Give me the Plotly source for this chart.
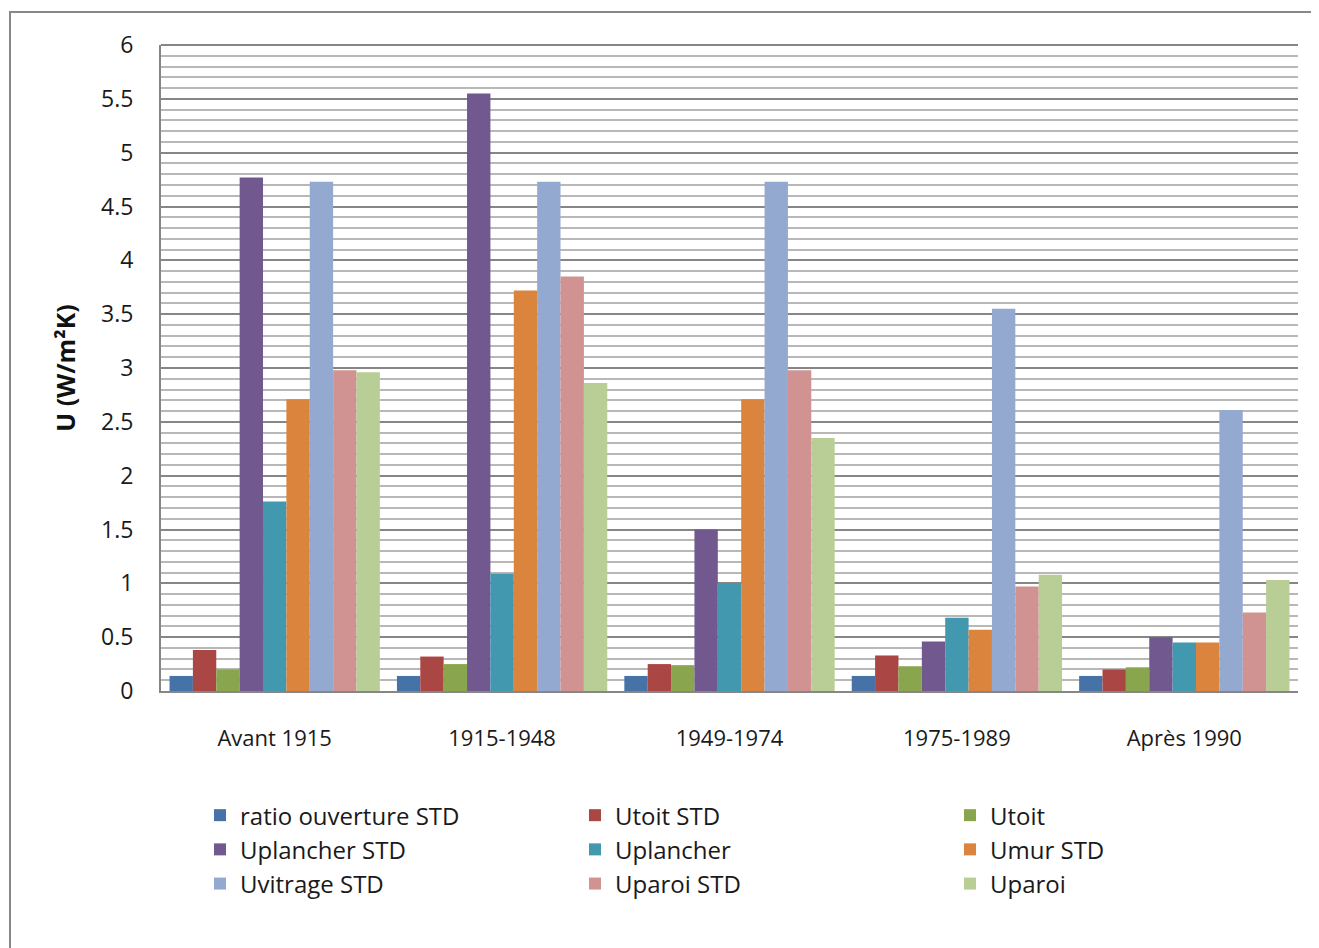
import plotly.graph_objects as go

categories = ["Avant 1915", "1915-1948", "1949-1974", "1975-1989", "Après 1990"]

ratio_ouverture_std = [0.14, 0.14, 0.14, 0.14, 0.14]
utoit_std = [0.38, 0.32, 0.25, 0.33, 0.20]
utoit = [0.20, 0.25, 0.24, 0.23, 0.22]
uplancher_std = [4.77, 5.55, 1.50, 0.46, 0.50]
uplancher = [1.76, 1.09, 1.00, 0.68, 0.45]
umur_std = [2.71, 3.72, 2.71, 0.57, 0.45]
uvitrage_std = [4.73, 4.73, 4.73, 3.55, 2.61]
uparoi_std = [2.98, 3.85, 2.98, 0.97, 0.73]
uparoi = [2.96, 2.86, 2.35, 1.08, 1.03]

series = [
    ("ratio ouverture STD", ratio_ouverture_std, "#4572A7"),
    ("Utoit STD", utoit_std, "#AA4643"),
    ("Utoit", utoit, "#89A54E"),
    ("Uplancher STD", uplancher_std, "#71588F"),
    ("Uplancher", uplancher, "#4198AF"),
    ("Umur STD", umur_std, "#DB843D"),
    ("Uvitrage STD", uvitrage_std, "#93A9CF"),
    ("Uparoi STD", uparoi_std, "#D19392"),
    ("Uparoi", uparoi, "#B9CD96"),
]

y_ticks = [0, 0.5, 1, 1.5, 2, 2.5, 3, 3.5, 4, 4.5, 5, 5.5, 6]
y_tick_labels = ["0", "0.5", "1", "1.5", "2", "2.5", "3", "3.5", "4", "4.5", "5", "5.5", "6"]

fig = go.Figure()
for name, vals, col in series:
    fig.add_trace(go.Bar(x=categories, y=vals, name=name, marker=dict(color=col, line=dict(width=0))))

FONT = "Open Sans"
TXT = "#1a1a1a"
fig.update_layout(
    width=1319, height=948,
    margin=dict(l=153, r=29, t=37, b=265, autoexpand=False),
    paper_bgcolor="white", plot_bgcolor="white",
    barmode="group", bargap=0.075, bargroupgap=0,
    font=dict(family=FONT, size=20, color=TXT),
    showlegend=True,
    legend=dict(
        orientation="h", x=0.0343, y=-0.158, xanchor="left", yanchor="top",
        entrywidth=330, entrywidthmode="pixels",
        font=dict(family=FONT, size=24, color=TXT),
        bgcolor="rgba(0,0,0,0)",
        traceorder="normal", itemwidth=30,
    ),
    xaxis=dict(
        showline=True, linecolor="#868686", linewidth=2,
        ticks="", tickfont=dict(family=FONT, size=22, color=TXT),
        ticklabelstandoff=27,
    ),
    yaxis=dict(
        range=[0, 6], tickvals=y_ticks, ticktext=y_tick_labels,
        showline=True, linecolor="#868686", linewidth=2,
        showgrid=True, gridcolor="#868686", gridwidth=2,
        minor=dict(dtick=0.1, showgrid=True, gridcolor="#b8b8b8", gridwidth=1.5),
        ticks="", tickfont=dict(family=FONT, size=23, color=TXT),
        ticklabelstandoff=21,
        title=dict(text="<b>U (W/m²K)</b>", font=dict(family=FONT, size=25, color="#111111"), standoff=18),
        zeroline=False,
    ),
    shapes=[dict(type="rect", xref="paper", yref="paper",
                 x0=-0.1328, y0=-0.429, x1=1.035, y1=1.0511,
                 line=dict(color="#888888", width=2), fillcolor="rgba(0,0,0,0)", layer="below"),
            dict(type="line", xref="paper", yref="paper", x0=0, x1=1, y0=1, y1=1,
                 line=dict(color="#868686", width=2))],
)

fig.write_html("out.html")
